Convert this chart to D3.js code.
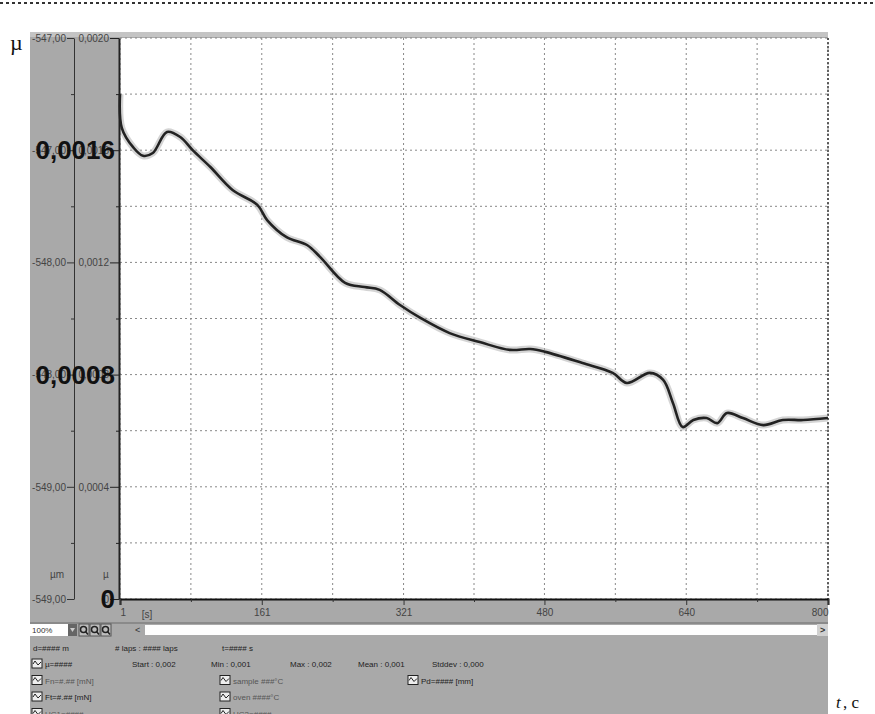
<!DOCTYPE html>
<html>
<head>
<meta charset="utf-8">
<script src="https://cdn.jsdelivr.net/npm/d3@7"></script>
<style>
  body { margin: 0; background: #fff; }
  svg { display: block; font-family: Arial, "Liberation Sans", sans-serif; }
</style>
</head>
<body>
<svg width="875" height="714"></svg>
<script>
// friction coefficient readings (time in s, mu)
const times = [1, 3, 16, 27, 38, 54, 69, 83, 103, 128, 156, 167, 189, 212, 227, 255, 277, 294, 317, 340, 373, 407, 441, 464, 481, 523, 557, 573, 599, 614, 625, 636, 648, 663, 675, 686, 704, 727, 749, 772, 800]
const mu = [0.00180, 0.00168, 0.00161, 0.00158, 0.00159, 0.001665, 0.001647, 0.00160, 0.00154, 0.001458, 0.001405, 0.001351, 0.00129, 0.001262, 0.001219, 0.001127, 0.001112, 0.001102, 0.001048, 0.001002, 0.000948, 0.000916, 0.000888, 0.000891, 0.000881, 0.000841, 0.000806, 0.00077, 0.000806, 0.000781, 0.000699, 0.000613, 0.000638, 0.000645, 0.000627, 0.000663, 0.000645, 0.00062, 0.000638, 0.000638, 0.000645]

const xLabels = [1, 161, 321, 480, 640, 800]
const xTicks = [1, 81, 161, 241, 321, 400.5, 480, 560, 640, 720, 800]
const yTicks = [0, 0.0002, 0.0004, 0.0006, 0.0008, 0.0010, 0.0012, 0.0014, 0.0016, 0.0018, 0.0020]
const yLabels = { 0: "0", 0.0004: "0,0004", 0.0008: "0,0008", 0.0012: "0,0012", 0.0016: "0,0016", 0.0020: "0,0020" }
const umLabels = { 0: "-549,00", 0.0004: "-549,00", 0.0008: "-548,00", 0.0012: "-548,00", 0.0016: "-547,00", 0.0020: "-547,00" }
const bigLabels = [0.0016, 0.0008, 0]

const row1 = [["d=#### m", 33], ["# laps : #### laps", 115], ["t=#### s", 222]]
const row2 = [["Start : 0,002", 132], ["Min : 0,001", 211], ["Max : 0,002", 290], ["Mean : 0,001", 358], ["Stddev : 0,000", 432]]
const iconRows = [
  [["µ=####", 32, true]],
  [["Fn=#.## [mN]", 32, false], ["sample ###°C", 220, false], ["Pd=#### [mm]", 408, true]],
  [["Ft=#.## [mN]", 32, true], ["oven ####°C", 220, false]],
  [["UC1=####", 32, false], ["UC2=####", 220, false]]
]

var svg = d3.select("svg")
var plotL = 120, plotR = 828, plotT = 38, plotB = 599
var panelGray = "#a9a9a9"

const x = d3.scaleLinear().domain([1, 800]).range([plotL, plotR])
const y = d3.scaleLinear().domain([0, 0.0020]).range([plotB, plotT])

// dotted rule at the very top
svg.append("line").attr("x1", 0).attr("x2", 875).attr("y1", 3).attr("y2", 3)
  .attr("stroke", "#333").attr("stroke-width", 2).attr("stroke-dasharray", "3,3")

// grey window
svg.append("rect").attr("x", 30).attr("y", 32).attr("width", plotR - 30).attr("height", 714 - 32).attr("fill", panelGray)
svg.append("rect").attr("x", 30).attr("y", 32).attr("width", plotR - 30).attr("height", 5).attr("fill", "#c4c4c4")
svg.append("rect").attr("x", plotL).attr("y", plotT).attr("width", plotR - plotL).attr("height", plotB - plotT).attr("fill", "#fff")

// grid
const g = svg.append("g")
g.selectAll(".vg").data(xTicks).join("line").attr("class", "vg")
  .attr("x1", d => x(d)).attr("x2", d => x(d)).attr("y1", plotT).attr("y2", plotB)
  .attr("stroke", "#888").attr("stroke-dasharray", "2,3")
g.selectAll(".hg").data(yTicks).join("line").attr("class", "hg")
  .attr("x1", plotL).attr("x2", plotR).attr("y1", d => y(d)).attr("y2", d => y(d))
  .attr("stroke", "#888").attr("stroke-dasharray", "2,3")
g.append("line").attr("x1", plotR).attr("x2", plotR).attr("y1", plotT).attr("y2", plotB)
  .attr("stroke", "#333").attr("stroke-width", 1.5).attr("stroke-dasharray", "2,2")

// curve
const line = d3.line().x((d, i) => x(times[i])).y(d => y(d)).curve(d3.curveCatmullRom)
g.append("path").datum(mu).attr("d", line).attr("fill", "none")
  .attr("stroke", "#aaa").attr("stroke-opacity", 0.5).attr("stroke-width", 7)
g.append("path").datum(mu).attr("d", line).attr("fill", "none")
  .attr("stroke", "#222").attr("stroke-width", 2.6)

// um axis
const umAxis = d3.axisLeft(y).tickValues(yTicks)
  .tickSize(0).tickFormat(d => umLabels[d] || "")
const a1 = svg.append("g").attr("transform", "translate(74,0)").call(umAxis)
a1.select(".domain").attr("stroke", "#333")
a1.selectAll(".tick").append("line").attr("x2", d => umLabels[d] ? -7 : -3).attr("stroke", "#333")
a1.selectAll("text").attr("x", -8).attr("font-size", 10).attr("fill", "#444").attr("font-family", "Arial")

// mu axis
const muAxis = d3.axisLeft(y).tickValues(yTicks)
  .tickSize(0).tickFormat(d => yLabels[d] || "")
const a2 = svg.append("g").attr("transform", "translate(119,0)").call(muAxis)
a2.select(".domain").attr("stroke", "#222").attr("stroke-width", 2)
a2.selectAll(".tick").append("line").attr("x2", d => yLabels[d] ? -9 : -3).attr("stroke", "#222")
a2.selectAll("text").attr("x", -10).attr("font-size", 10).attr("fill", "#444").attr("font-family", "Arial")

svg.append("text").attr("x", 64).attr("y", 578).attr("text-anchor", "end").attr("font-size", 10).attr("fill", "#444").text("µm")
svg.append("text").attr("x", 106).attr("y", 578).attr("text-anchor", "middle").attr("font-size", 10).attr("fill", "#444").text("µ")

// big overlaid labels
svg.selectAll(".big").data(bigLabels).join("text").attr("class", "big")
  .attr("x", 115).attr("y", d => y(d) + 9).attr("text-anchor", "end")
  .attr("font-size", 26).attr("font-weight", "bold").attr("fill", "#111")
  .text(d => d === 0 ? "0" : d3.format(".4f")(d).replace(".", ","))

// time axis
const xAxis = d3.axisBottom(x).tickValues(xTicks).tickSize(6)
  .tickFormat(d => xLabels.includes(d) ? d : "")
const a3 = svg.append("g").attr("transform", "translate(0," + plotB + ")").call(xAxis)
a3.select(".domain").attr("stroke", "#111").attr("stroke-width", 2)
a3.selectAll(".tick line").attr("stroke", "#333").attr("y2", d => xLabels.includes(d) ? 6 : 3)
a3.selectAll("text").attr("y", 10).attr("font-size", 10).attr("fill", "#444").attr("font-family", "Arial")
  .attr("text-anchor", d => d === 800 ? "end" : d === 1 ? "start" : "middle")
  .attr("dx", d => d === 1 ? 0 : 0)
svg.append("text").attr("x", 147).attr("y", 618).attr("text-anchor", "middle").attr("font-size", 10).attr("fill", "#444").text("[s]")

// zoom bar
svg.append("rect").attr("x", 30).attr("y", 622).attr("width", plotR - 30).attr("height", 2).attr("fill", "#8a8a8a")
svg.append("rect").attr("x", 30).attr("y", 624).attr("width", 38).attr("height", 12).attr("fill", "#fff")
svg.append("text").attr("x", 32).attr("y", 633).attr("font-size", 8).attr("fill", "#333").text("100%")
svg.append("rect").attr("x", 68).attr("y", 624).attr("width", 9).attr("height", 12).attr("fill", "#666")
svg.append("path").attr("d", "M70,628 L75,628 L72.5,632 Z").attr("fill", "#ccc")
svg.selectAll(".zb").data([79, 90, 101]).join("g").attr("class", "zb").each(function (d) {
  const b = d3.select(this)
  b.append("rect").attr("x", d).attr("y", 624).attr("width", 10).attr("height", 12).attr("fill", "#bdbdbd").attr("stroke", "#555")
  b.append("circle").attr("cx", d + 4.5).attr("cy", 629.5).attr("r", 3).attr("fill", "none").attr("stroke", "#222").attr("stroke-width", 1.5)
  b.append("line").attr("x1", d + 6.5).attr("y1", 631.5).attr("x2", d + 9).attr("y2", 634.5).attr("stroke", "#222").attr("stroke-width", 1.5)
})
svg.append("text").attr("x", 135).attr("y", 633).attr("font-size", 9).attr("fill", "#333").text("<")
svg.append("rect").attr("x", 145).attr("y", 625).attr("width", 672).attr("height", 10).attr("fill", "#fdfdfd")
svg.append("rect").attr("x", 817).attr("y", 624).attr("width", 11).attr("height", 12).attr("fill", "#d0d0d0")
svg.append("text").attr("x", 820).attr("y", 633).attr("font-size", 9).attr("font-weight", "bold").attr("fill", "#333").text(">")

// status area
svg.selectAll(".r1").data(row1).join("text").attr("class", "r1")
  .attr("x", d => d[1]).attr("y", 651).attr("font-size", 8).attr("fill", "#222").text(d => d[0])
svg.selectAll(".r2").data(row2).join("text").attr("class", "r2")
  .attr("x", d => d[1]).attr("y", 667).attr("font-size", 8).attr("fill", "#222").text(d => d[0])
iconRows.forEach(function (row, i) {
  const yy = 667 + i * 16.5
  row.forEach(function (c) {
    svg.append("rect").attr("x", c[1]).attr("y", yy - 8).attr("width", 10).attr("height", 9)
      .attr("fill", "#eee").attr("stroke", "#222")
    svg.append("path").attr("d", `M${c[1] + 1},${yy - 3} l2,-3 l3,4 l3,-3`).attr("fill", "none").attr("stroke", "#222")
    svg.append("text").attr("x", c[1] + 13).attr("y", yy).attr("font-size", 8)
      .attr("fill", c[2] ? "#222" : "#555").text(c[0])
  })
})

// t, c
svg.append("text").attr("x", 836).attr("y", 708).attr("font-family", "Liberation Serif, serif").attr("font-size", 17)
  .attr("font-style", "italic").attr("fill", "#111").text("t")
svg.append("text").attr("x", 843).attr("y", 708).attr("font-family", "Liberation Serif, serif").attr("font-size", 17)
  .attr("fill", "#111").text(", c")
svg.append("text").attr("x", 10).attr("y", 50).attr("font-family", "Liberation Serif, serif").attr("font-size", 22)
  .attr("fill", "#111").text("µ")
</script>
</body>
</html>
